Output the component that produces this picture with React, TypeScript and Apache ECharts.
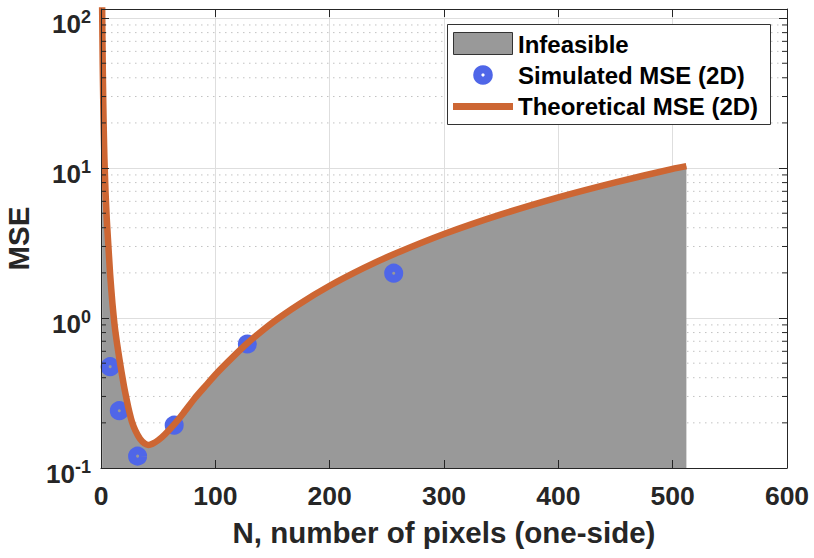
import React, { useEffect, useRef } from "react";
import * as echarts from "echarts";

// ---- data ----
const THEORY_N = [1, 1.5, 2, 2.5, 3, 4, 5, 6, 8, 10, 12, 14, 16, 18, 20, 22, 24, 27, 30, 34, 38, 41.5, 45, 50, 56, 65, 72, 82, 92, 101, 115, 128, 150, 174, 200, 230, 256, 300, 350, 400, 450, 500, 512];
const THEORY_MSE = [118, 49.5, 26.9, 16.8, 11.5, 6.81, 4.65, 3.45, 1.95, 1.25, 0.879, 0.679, 0.54, 0.435, 0.355, 0.297, 0.251, 0.204, 0.178, 0.157, 0.146, 0.1426, 0.1452, 0.1531, 0.168, 0.1995, 0.232, 0.292, 0.357, 0.427, 0.547, 0.679, 0.933, 1.247, 1.641, 2.158, 2.661, 3.631, 4.909, 6.383, 8.035, 9.886, 10.3];
const SIM_N = [8, 16, 32, 64, 128, 256];
const SIM_MSE = [0.474, 0.241, 0.12, 0.193, 0.671, 1.99];
const X_MIN = 0;
const X_MAX = 600;
const X_STEP = 100;
const Y_MIN = 0.1;
const Y_MAX = 115;
const DECADES = [0.1, 1, 10];
const MINOR_MULT = [2, 3, 4, 5, 6, 7, 8, 9];
const LEGEND_LABELS = ["Infeasible", "Simulated MSE (2D)", "Theoretical MSE (2D)"];
const X_NAME = "N, number of pixels (one-side)";
const Y_NAME = "MSE";

const FONT = "'Liberation Sans', Arial, Helvetica, sans-serif";
const AXIS_COLOR = "#262626";
const GRAY = "#999999";
const ORANGE = "#CD6633";
const BLUE = "#4F66E8";

export default function App() {
  const ref = useRef<HTMLDivElement>(null);

  useEffect(() => {
    if (!ref.current) return;
    const chart = echarts.init(ref.current, null, { renderer: "svg" });

    const theory = THEORY_N.map((n, i) => [n, THEORY_MSE[i]]);
    const sim = SIM_N.map((n, i) => [n, SIM_MSE[i]]);
    const minor: number[][] = [];
    DECADES.forEach((d) => MINOR_MULT.forEach((m) => minor.push([0, +(d * m).toPrecision(3)])));

    const yLabelFmt = (v: number) => {
      const l = Math.log10(v);
      const e = Math.round(l);
      if (Math.abs(l - e) > 1e-6) return "";
      return `{b|10}{s|${e}}`;
    };

    const commonX = {
      type: "value",
      min: X_MIN,
      max: X_MAX,
      interval: X_STEP,
      gridIndex: 0,
    };
    const commonY = {
      type: "log",
      logBase: 10,
      min: Y_MIN,
      max: Y_MAX,
      gridIndex: 0,
    };

    const option: any = {
      animation: false,
      backgroundColor: "#ffffff",
      grid: { left: 101, right: 27, top: 9, bottom: 90, containLabel: false, outerBoundsMode: "none" },
      xAxis: [
        {
          ...commonX,
          position: "top",
          z: 0,
          axisLine: { show: true, lineStyle: { color: AXIS_COLOR, width: 1 } },
          axisTick: { show: true, inside: true, length: 8, lineStyle: { color: AXIS_COLOR } },
          axisLabel: { show: false },
          splitLine: { show: true, lineStyle: { color: "#dedede", width: 1 } },
        },
        {
          ...commonX,
          position: "bottom",
          z: 10,
          axisLine: { show: true, onZero: false, lineStyle: { color: AXIS_COLOR, width: 1 } },
          axisTick: { show: true, inside: true, length: 8, lineStyle: { color: AXIS_COLOR } },
          axisLabel: {
            show: true,
            margin: 14,
            color: AXIS_COLOR,
            fontFamily: FONT,
            fontWeight: "bold",
            fontSize: 26.5,
            showMinLabel: true,
            showMaxLabel: true,
          },
          splitLine: { show: false },
          name: X_NAME,
          nameLocation: "middle",
          nameGap: 49,
          nameTextStyle: { color: AXIS_COLOR, fontFamily: FONT, fontWeight: "bold", fontSize: 29.5 },
        },
      ],
      yAxis: [
        {
          ...commonY,
          position: "right",
          z: 0,
          axisLine: { show: true, onZero: false, lineStyle: { color: AXIS_COLOR, width: 1 } },
          axisTick: { show: true, inside: true, length: 8, lineStyle: { color: AXIS_COLOR } },
          axisLabel: { show: false },
          splitLine: { show: true, lineStyle: { color: "#dedede", width: 1 } },
        },
        {
          ...commonY,
          position: "left",
          z: 10,
          axisLine: { show: true, onZero: false, lineStyle: { color: AXIS_COLOR, width: 1 } },
          axisTick: { show: true, inside: true, length: 8, lineStyle: { color: AXIS_COLOR } },
          axisLabel: {
            show: true,
            margin: 10,
            color: AXIS_COLOR,
            fontFamily: FONT,
            fontWeight: "bold",
            showMinLabel: true,
            padding: [5, 0, 0, 0],
            formatter: yLabelFmt,
            rich: {
              b: { fontSize: 26, lineHeight: 26, fontFamily: FONT, fontWeight: "bold", color: AXIS_COLOR, padding: [7, 0, 0, 0] },
              s: { fontSize: 18, lineHeight: 18, fontFamily: FONT, fontWeight: "bold", color: AXIS_COLOR, verticalAlign: "top" },
            },
          },
          splitLine: { show: false },
          name: Y_NAME,
          nameLocation: "middle",
          nameGap: 68,
          nameTextStyle: { color: AXIS_COLOR, fontFamily: FONT, fontWeight: "bold", fontSize: 29.5 },
        },
      ],
      series: [
        {
          type: "custom",
          name: "minorGrid",
          xAxisIndex: 0,
          yAxisIndex: 0,
          z: 1,
          silent: true,
          clip: false,
          encode: { x: 0, y: 1 },
          data: minor,
          renderItem: (params: any, api: any) => {
            const y = api.coord([0, api.value(1)])[1];
            const cs = params.coordSys;
            return {
              type: "line",
              shape: { x1: cs.x + 4, y1: y, x2: cs.x + cs.width - 4, y2: y },
              style: { stroke: "#c2c2c2", lineWidth: 1, lineDash: [1.5, 4.5] },
            };
          },
        },
        {
          type: "line",
          name: LEGEND_LABELS[0],
          xAxisIndex: 0,
          yAxisIndex: 0,
          z: 2,
          data: theory,
          showSymbol: false,
          symbol: "none",
          smooth: 0.2,
          lineStyle: { width: 0, opacity: 0 },
          areaStyle: { color: GRAY, opacity: 1, origin: "start" },
          silent: true,
        },
        {
          type: "scatter",
          name: LEGEND_LABELS[1],
          xAxisIndex: 0,
          yAxisIndex: 0,
          z: 3,
          data: sim,
          symbol: "circle",
          symbolSize: 11,
          itemStyle: { color: "rgba(0,0,0,0)", borderColor: BLUE, borderWidth: 8, opacity: 1 },
          silent: true,
        },
        {
          type: "line",
          name: LEGEND_LABELS[2],
          xAxisIndex: 0,
          yAxisIndex: 0,
          z: 4,
          data: theory,
          showSymbol: false,
          symbol: "none",
          smooth: 0.2,
          lineStyle: { width: 6.5, color: ORANGE, cap: "butt", join: "round" },
          silent: true,
        },
        {
          type: "custom",
          name: "minorTicks",
          xAxisIndex: 0,
          yAxisIndex: 0,
          z: 12,
          silent: true,
          clip: false,
          encode: { x: 0, y: 1 },
          data: minor,
          renderItem: (params: any, api: any) => {
            const y = api.coord([0, api.value(1)])[1];
            const cs = params.coordSys;
            return {
              type: "group",
              children: [
                {
                  type: "line",
                  shape: { x1: cs.x, y1: y, x2: cs.x + 5, y2: y },
                  style: { stroke: AXIS_COLOR, lineWidth: 1 },
                },
                {
                  type: "line",
                  shape: { x1: cs.x + cs.width - 5, y1: y, x2: cs.x + cs.width, y2: y },
                  style: { stroke: AXIS_COLOR, lineWidth: 1 },
                },
              ],
            };
          },
        },
      ],
      graphic: [
        {
          type: "group",
          z: 100,
          children: [
            {
              type: "rect",
              shape: { x: 447.5, y: 24.5, width: 323, height: 100 },
              style: { fill: "#ffffff", stroke: "#333333", lineWidth: 1 },
              z: 100,
            },
            {
              type: "rect",
              shape: { x: 453.5, y: 32.5, width: 59, height: 22 },
              style: { fill: GRAY, stroke: "#333333", lineWidth: 1 },
              z: 101,
            },
            {
              type: "text",
              x: 518,
              y: 44,
              z: 101,
              style: { text: LEGEND_LABELS[0], fill: "#000000", font: `bold 24px ${FONT}`, textVerticalAlign: "middle", verticalAlign: "middle" },
            },
            {
              type: "ring",
              shape: { cx: 483, cy: 75, r: 9.8, r0: 1.6 },
              style: { fill: BLUE },
              z: 101,
            },
            {
              type: "text",
              x: 518,
              y: 75,
              z: 101,
              style: { text: LEGEND_LABELS[1], fill: "#000000", font: `bold 24px ${FONT}`, textVerticalAlign: "middle", verticalAlign: "middle" },
            },
            {
              type: "line",
              shape: { x1: 453, y1: 106.5, x2: 513, y2: 106.5 },
              style: { stroke: ORANGE, lineWidth: 7 },
              z: 101,
            },
            {
              type: "text",
              x: 518,
              y: 106,
              z: 101,
              style: { text: LEGEND_LABELS[2], fill: "#000000", font: `bold 24px ${FONT}`, textVerticalAlign: "middle", verticalAlign: "middle" },
            },
          ],
        },
      ],
    };

    chart.setOption(option);
    return () => {
      chart.dispose();
    };
  }, []);

  return (
    <div
      ref={ref}
      style={{ position: "absolute", left: 0, top: 0, width: 814, height: 558, background: "#ffffff" }}
    />
  );
}
